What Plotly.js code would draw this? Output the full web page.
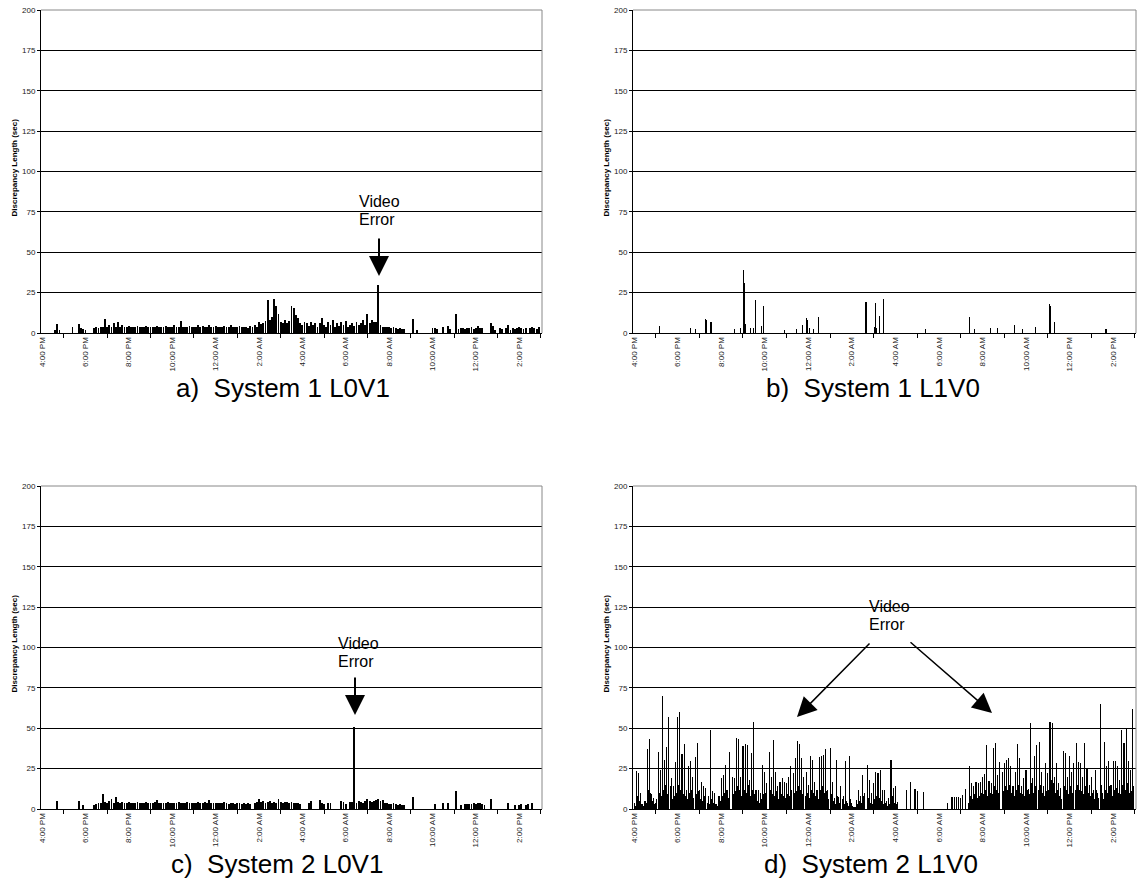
<!DOCTYPE html>
<html><head><meta charset="utf-8">
<script src="https://cdn.plot.ly/plotly-3.0.1.min.js"></script>
<style>html,body{margin:0;padding:0;background:#fff}#chart{width:1138px;height:890px}</style>
</head><body><div id="chart"></div>
<script>
// Time axis: hours after 4:00 PM, one sample every 0.1 h
const stepHours = 0.1;
const tickHours = [0,2,4,6,8,10,12,14,16,18,20,22];
const tickLabels = ["4:00 PM","6:00 PM","8:00 PM","10:00 PM","12:00 AM","2:00 AM","4:00 AM","6:00 AM","8:00 AM","10:00 AM","12:00 PM","2:00 PM"];
const minorTickHours = [1,3,5,7,9,11,13,15,17,19,21,23];
const yTicks = [0,25,50,75,100,125,150,175,200];

// a) System 1 L0V1 (discrepancy length, sec)
const sys1L0V1 = [
0,0,0,0,0,0, 2,5.5,2,0, 0,0,0,0, 3.5,0,0, 5.5,3,2.5,2,0,0,0,
3,3.5,3,4,4,8.5,4,5,4,6,4,7,4,5,
4,3.5,4.5,4,3.5,4,4.5,4,3.5,4, 4.5,3.5,4,4,3.5,4.5,4,3.5,4,4.5, 3.5,4,4,5,4,3.5,7.5,4,3.5,4,
4.5,4,3.5,4,5,4,4.5,3.5,4,5, 4,3.5,4.5,4,3.5,4,4.5,3.5,4,5, 4,3.5,4,4.5,3.5,4,3.5,
3,4.5,3.5,5,4,7,5.5,6,7.5,
20.5,8,10,21,17,12,7,6.5,8,6,7.5,17,15.5,11,9,6.5,
5,7,6,4.5,7,5,6,4,6.5,9, 5,4,7,5,8,4,6,4.5,7,5, 7.5,4,5,6,4.5,7,5,6,8,5, 12,6,8,7,7,
29.5,5,4,3.5,4,3.5,3,3.5,3,2.5,3,2.5,2.5,
0,0,0,8.5,0,2,0,0,0,0,0,0,
3,3,2.5,0,0,3.5,0,4.5,2.5,0,0,
12,2.5,3,3,2.5,3,3,3.5,2.5,3,4.5,3,3,
0,0,0,6.5,4.5,2,0,
3,2.5,0,3,5,2,3,2.5,3,3.5, 3,2.5,3,0,3,3.5,3,2.5,3.5
];

// b) System 1 L1V0 : sparse events (hours after 4 PM, sec)
const sys1L1V0Hours = [1.18,2.58,2.8,3.28,3.32,3.53,4.62,4.87,5.03,5.07,5.1,5.35,5.48,5.56,5.86,5.93,6.9,7.45,7.73,7.91,7.95,8.05,8.26,8.45,10.65,11.03,11.09,11.13,11.27,11.44,13.38,15.41,15.64,16.37,16.67,17.48,17.85,18.42,19.08,19.11,19.29,21.64,21.68];
const sys1L1V0Values = [4.2,2.9,2.5,8.5,8,6.7,2.5,3,39,31,5.6,3.3,3,20.4,4.6,17,2,2.5,5,9.2,8,3,2.5,10,19.2,3.7,18.3,3,10.8,20.8,2.5,10,2.5,3,3.3,5,2.5,3.7,18,17,7,2.5,2.5];

// c) System 2 L0V1
const sys2L0V1 = [
0,0,0,0,0,0,0, 4.7, 0,0,0,0,0,0,0,0,0, 5.2,0,2.3, 0,0,0,0,
2.5,3,3.5,4,9,4.5,3.5,5,6,4,7.5,4.5,4,4.5,
4,3.5,4.5,4,3.5,4,4.5,3.5,4,3.5, 4.5,4,3.5,4,4.5,5.5,4,3.5,4,3.5, 4.5,4,3.5,4,3.5,4.5,4,3.5,4,4.5,
3.5,4,3.5,4,4.5,3.5,4,4.5,3.5,5.5, 4,3.5,4,3.5,4,3.5,4.5,3.5,3,4, 3.5,3,4,3.5,3,3.5,3,3.5,3,
0,
4,4.5,6.5,4.5,5,4,4.5,5,4,4.5, 3.5,6.5,4.5,4,4.5,4.5,4,4.5,4,3.5, 3.5,3,
0,0,0,
3.5,5,0,0,0,5.5,3.5,3,0,4,4,0,0,0,0,5,4.5,3,0,4.5,4.5,51,
4,5,4.5,4,5,6.5,5,4.5,5,5.5, 6,5,5.5,4,3.5,3,3,3.5,3,2.5, 3,2.5,2.5,
0,0,0,7.5,0,0,0,0,0,0,0,0,0,3,0,0,0,3.5,0,3.5,0,0,0,11,0,2.5,0,
3,3,3,3,3.5,3,3.5,3.5,3,2.5, 0,0,6.5,0,0,0,0,0,0,0,3.5,0,0,2.5,0,2.5,3,0,2.5,3,0,3.5,0,0,0
];

// d) System 2 L1V0 : samples on the 0.1 h grid (spikes)
const sys2L1V0 = [
3.5,23.7,22,10,3,5,37,43.5,9,7,
3.5,35,24,69.8,30.6,38.5,56.7,19,14,29,
56.7,60,33.8,40,12,26.5,30,20,32,41,
12,17,14,13,8,49,11,10,3,8,
19,21,27,12,35.4,20,19,44,43.5,20,
39,40,39.6,18,34.8,54,12,11.5,10,27,
23,16,35,20,42.7,23,14,17,19,17,
16,20,26.5,22,31.7,42,40,31.7,20,23,
15,32.7,30.6,17,12,32.3,33,33.7,37.3,12,
38,17,6.7,30.6,7.7,14,8,29.6,3.5,32.7,
3.5,1.5,5.6,12,8,21,10,27,18,10,
16,23,22,24,12,12,5,6.7,30.6,13,
14.4,4.6,0,0,0,11.5,0,17,0,12.3,
11,0,0,10.4,0,0,0,0,0,0,
0,0,0,0,3.5,0,7.3,7.3,7.3,7.3,
6.7,8.8,12.5,0,26.5,16,14,17,16,17,
20,21.7,39.6,17.5,16,38,41,21,29,22.7,
28.5,30.6,31.7,26.5,14,23,40.4,31.7,14,19,
24.4,12.3,53,19,32.7,39.4,41.7,22.7,14,28.5,
22,54,53.5,20,28.5,16,13,35.8,34.8,20,
32.7,23,28.5,40.6,29,28.5,20,40.6,25.4,15,
20,12,24.4,10,65,10,41.5,26.5,29.6,15,
29.6,29.6,26.5,18,49,41,50.4,29.6,24.4,62
];
// d) System 2 L1V0 : short bars between the grid samples (half-step positions)
const sys2L1V0Between = [
2,8,5,3,2,4,12,10,5,3,
6,10,8,12,15,9,14,6,8,10,
15,12,9,8,6,10,12,7,9,11,
6,5,8,4,3,6,4,3,2,5,
8,10,12,7,10,9,11,14,12,8,
12,10,15,8,12,9,5,4,6,9,
10,7,12,9,8,11,6,9,8,7,
9,8,12,10,11,14,12,9,8,10,
7,12,10,8,6,12,14,10,11,6,
9,5,3,8,4,6,3,5,2,6,
2,1,3,5,4,8,6,7,4,3,
6,8,7,5,3,4,2,3,8,4,
3,0,0,0,0,0,0,0,0,0,
0,0,0,0,0,0,0,0,0,0,
0,0,0,0,0,0,0,0,0,0,
0,0,0,4,8,6,9,7,8,10,
9,12,8,10,9,14,12,10,13,11,
14,12,15,10,8,12,15,10,9,8,
12,9,16,10,14,12,15,10,8,11,
12,18,16,10,12,8,6,14,12,9,
14,10,12,15,12,11,9,14,10,8,
10,6,12,7,15,6,12,10,14,8,
12,13,10,9,15,12,16,10,11,14
];

const captions = ["a)\u00a0 System 1 L0V1","b)\u00a0 System 1 L1V0","c)\u00a0 System 2 L0V1","d)\u00a0 System 2 L1V0"];
const yTitle = "Discrepancy Length (sec)";

const W = 1138, H = 890;
const px = v => v / W, py = v => 1 - v / H;
const FONT = "Liberation Sans, Arial, Helvetica, sans-serif";
const idxHours = (arr, off) => arr.map((_, i) => +((i + (off||0)) * stepHours).toFixed(3));

// panel frames in pixels [left, right, top, bottom]
const frames = [[41,542,10,333],[633,1136,10,333],[41,542,486,809],[633,1136,486,809]];

function bar(x, y, ax, w) {
  return {type:'bar', x:x, y:y, xaxis:'x'+(ax===1?'':ax), yaxis:'y'+(ax===1?'':ax),
    width:w, marker:{color:'#000', line:{width:0}}, hoverinfo:'skip', showlegend:false};
}
const data = [
  bar(idxHours(sys1L0V1), sys1L0V1, 1, 0.085),
  bar(sys1L1V0Hours, sys1L1V0Values, 2, 0.05),
  bar(idxHours(sys2L0V1), sys2L0V1, 3, 0.085),
  bar(idxHours(sys2L1V0Between, 0.5), sys2L1V0Between, 4, 0.045),
  bar(idxHours(sys2L1V0), sys2L1V0, 4, 0.05)
];

const layout = {width:W, height:H, margin:{l:0,r:0,t:0,b:0}, paper_bgcolor:'#fff', plot_bgcolor:'#fff',
  font:{family:FONT, color:'#000'}, bargap:0, barmode:'overlay', showlegend:false, annotations:[], shapes:[]};

frames.forEach((f, k) => {
  const n = k === 0 ? '' : String(k+1);
  const yname = 'y' + n;
  layout['xaxis'+n] = {domain:[px(f[0]), px(f[1])], anchor:yname, range:[-0.05, 23.05],
    tickmode:'array', tickvals:tickHours, ticktext:tickLabels, tickangle:-90, ticks:'',
    tickfont:{size:8, color:'#222', family:FONT}, showline:true, linecolor:'#000', linewidth:1,
    showgrid:false, zeroline:false, fixedrange:true,
    minor:{tickmode:'array', tickvals:minorTickHours, ticks:'outside', ticklen:4, tickcolor:'#000', tickwidth:1, showgrid:false}};
  layout['yaxis'+n] = {domain:[py(f[3]), py(f[2])], anchor:'x'+n, range:[0,200],
    tickmode:'array', tickvals:yTicks, ticks:'outside', ticklen:3, tickcolor:'#000',
    tickfont:{size:8, color:'#222', family:FONT}, showline:true, linecolor:'#000', linewidth:1,
    showgrid:true, gridcolor:'#000', gridwidth:1, zeroline:false, fixedrange:true};
  layout.shapes.push({type:'line', xref:'paper', yref:'paper', x0:px(f[0]), x1:px(f[1]), y0:py(f[2]), y1:py(f[2]), line:{color:'#888', width:1}});
  layout.shapes.push({type:'line', xref:'paper', yref:'paper', x0:px(f[1]), x1:px(f[1]), y0:py(f[2]), y1:py(f[3]), line:{color:'#888', width:1}});
  layout.annotations.push({xref:'paper', yref:'paper', x:px(f[0]-27), y:py((f[2]+f[3])/2 - 4),
    xanchor:'center', yanchor:'middle',
    text:'<b>'+yTitle+'</b>', textangle:-90, showarrow:false, font:{size:8, family:FONT, color:'#000'}});
});

const capPos = [[283,388],[873,388],[277,864],[871,864]];
captions.forEach((c, k) => layout.annotations.push({xref:'paper', yref:'paper', x:px(capPos[k][0]), y:py(capPos[k][1]),
  xanchor:'center', yanchor:'middle', text:c, showarrow:false, font:{size:26, family:FONT, color:'#000'}}));

function label(t, x, y) {
  layout.annotations.push({xref:'paper', yref:'paper', x:px(x), y:py(y), xanchor:'center', yanchor:'middle',
    text:t, showarrow:false, font:{size:16, family:FONT, color:'#000'}});
}
function arrow(x0, y0, x1, y1, w, s) {
  layout.annotations.push({xref:'paper', yref:'paper', x:px(x1), y:py(y1), ax:x0-x1, ay:y0-y1,
    axref:'pixel', ayref:'pixel', text:'', showarrow:true, arrowhead:2, arrowsize:s, arrowwidth:w, arrowcolor:'#000', standoff:0});
}
label('Video', 379, 201); label('Error', 377, 219); arrow(379, 237, 379, 276, 2, 2);
label('Video', 358, 643); label('Error', 356, 661); arrow(355, 676, 355, 715, 2, 2);
label('Video', 889, 606); label('Error', 887, 624);
arrow(871, 642, 797, 717, 1.5, 2.6); arrow(909, 641, 992, 713, 1.5, 2.6);

Plotly.newPlot('chart', data, layout, {displayModeBar:false, staticPlot:true});
</script></body></html>
